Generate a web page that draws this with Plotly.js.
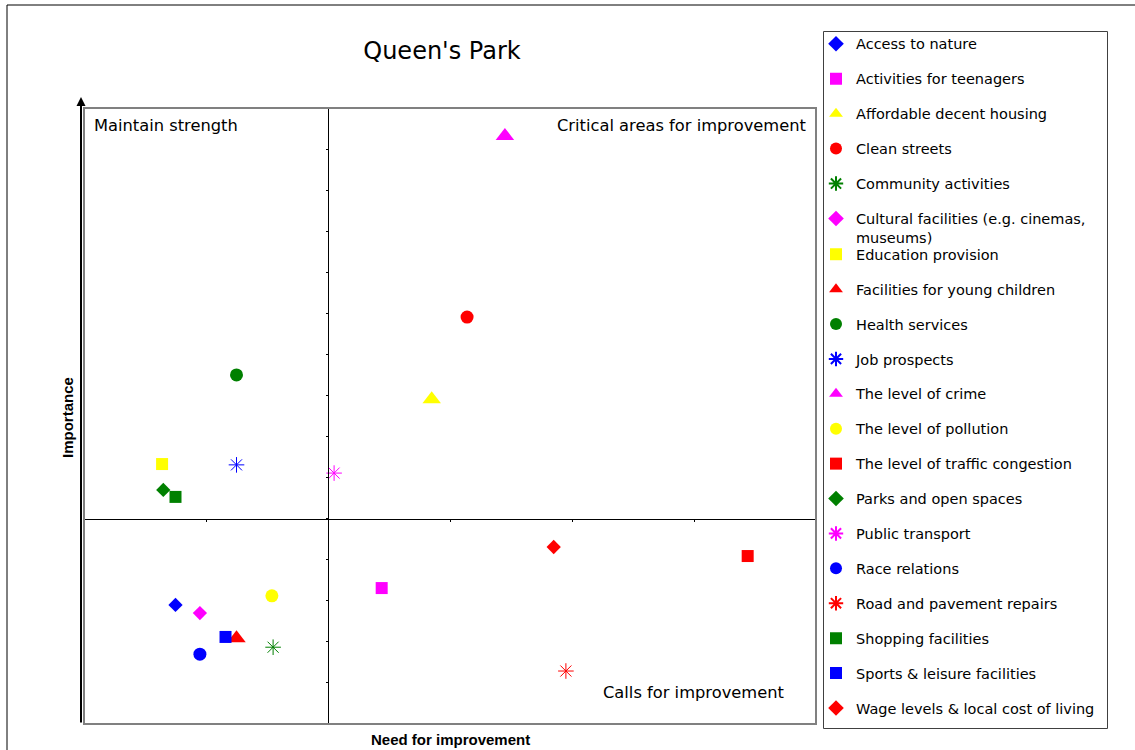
<!DOCTYPE html>
<html>
<head>
<meta charset="utf-8">
<script src="https://cdn.plot.ly/plotly-3.0.1.min.js"></script>
<style>html,body{margin:0;padding:0;background:#fff;}#chart{width:1135px;height:750px;}</style>
</head>
<body>
<div id="chart"></div>
<script>
const categories = [
  "Access to nature",
  "Activities for teenagers",
  "Affordable decent housing",
  "Clean streets",
  "Community activities",
  "Cultural facilities (e.g. cinemas,<br>museums)",
  "Education provision",
  "Facilities for young children",
  "Health services",
  "Job prospects",
  "The level of crime",
  "The level of pollution",
  "The level of traffic congestion",
  "Parks and open spaces",
  "Public transport",
  "Race relations",
  "Road and pavement repairs",
  "Shopping facilities",
  "Sports & leisure facilities",
  "Wage levels & local cost of living"
];
const needForImprovement = [0.75, 2.44, 2.85, 3.14, 1.55, 0.95, 0.64, 1.25, 1.25, 1.25, 3.45, 1.54, 5.44, 0.65, 2.05, 0.95, 3.95, 0.75, 1.16, 3.85];
const importance =        [2.90, 3.31, 7.91, 9.91, 1.87, 2.70, 6.33, 2.09, 8.50, 6.31, 14.32, 3.12, 4.09, 5.70, 6.11, 1.70, 1.29, 5.53, 2.12, 4.31];
const colors = ["#0000FF","#FF00FF","#FFFF00","#FF0000","#008000","#FF00FF","#FFFF00","#FF0000","#008000","#0000FF","#FF00FF","#FFFF00","#FF0000","#008000","#FF00FF","#0000FF","#FF0000","#008000","#0000FF","#FF0000"];
const symbols = ["diamond","square","triangle-up","circle","asterisk-open","diamond","square","triangle-up","circle","asterisk-open","triangle-up","circle","square","diamond","asterisk-open","circle","asterisk-open","square","square","diamond"];
const xTickVals = [0,1,2,3,4,5,6];
const yTickVals = [0,1,2,3,4,5,6,7,8,9,10,11,12,13,14,15];
const quadrantLabels = ["Maintain strength","Critical areas for improvement","Calls for improvement"];

const sizeFor = {"diamond":11,"square":12,"triangle-up":16,"circle":13,"asterisk-open":13};

const traces = categories.map((name, i) => ({
  type: "scatter",
  mode: "markers",
  name: name,
  x: [needForImprovement[i]],
  y: [importance[i]],
  legendgroup: "g" + i,
  legend: i < 6 ? "legend" : "legend2",
  cliponaxis: false,
  marker: {
    symbol: symbols[i],
    size: sizeFor[symbols[i]],
    color: colors[i],
    line: symbols[i] === "asterisk-open" ? {color: colors[i], width: 1} : {width: 0}
  },
  hoverinfo: "name"
}));

const legendFont = {family: "DejaVu Sans", size: 14.5, color: "#000"};
const px = v => (v - 84) / 732;
const py = v => (724 - v) / 616;

const layout = {
  width: 1135,
  height: 750,
  margin: {l: 84, r: 319, t: 108, b: 26},
  paper_bgcolor: "#fff",
  plot_bgcolor: "#fff",
  showlegend: true,
  title: {
    text: "Queen's Park",
    font: {family: "DejaVu Sans", size: 24, color: "#000"},
    x: 442 / 1135, xanchor: "center",
    y: 1 - 51 / 750, yanchor: "middle"
  },
  xaxis: {
    range: [0, 6], anchor: "free", position: 5 / 15,
    showline: true, linecolor: "#000", linewidth: 1,
    ticks: "outside", ticklen: 2, tickcolor: "#000", tickwidth: 1,
    tickvals: xTickVals, showticklabels: false,
    showgrid: false, zeroline: false, fixedrange: true
  },
  yaxis: {
    range: [0, 15], anchor: "free", position: 2 / 6,
    showline: true, linecolor: "#000", linewidth: 1,
    ticks: "outside", ticklen: 2, tickcolor: "#000", tickwidth: 1,
    tickvals: yTickVals, showticklabels: false,
    showgrid: false, zeroline: false, fixedrange: true
  },
  legend: {
    x: px(816), xanchor: "left", y: py(27.8), yanchor: "top",
    font: legendFont, bgcolor: "rgba(0,0,0,0)", borderwidth: 0,
    traceorder: "grouped", tracegroupgap: 13.1, valign: "top", itemsizing: "constant"
  },
  legend2: {
    x: px(816), xanchor: "left", y: py(238.3), yanchor: "top",
    font: legendFont, bgcolor: "rgba(0,0,0,0)", borderwidth: 0,
    traceorder: "grouped", tracegroupgap: 13.05, valign: "top", itemsizing: "constant"
  },
  shapes: [
    {type: "rect", xref: "paper", yref: "paper", x0: px(7), x1: px(1160), y0: py(5), y1: py(770), line: {color: "#000", width: 1}, layer: "below"},
    {type: "rect", xref: "paper", yref: "paper", x0: 0, x1: 1, y0: 0, y1: 1, line: {color: "#808080", width: 2}},
    {type: "rect", xref: "paper", yref: "paper", x0: px(823.5), x1: px(1107.5), y0: py(31.5), y1: py(728.5), line: {color: "#404040", width: 1}}
  ],
  annotations: [
    {xref: "paper", yref: "paper", x: px(92), y: py(125), xanchor: "left", yanchor: "middle", text: quadrantLabels[0], showarrow: false, font: {family: "DejaVu Sans", size: 16.3, color: "#000"}},
    {xref: "paper", yref: "paper", x: px(808), y: py(125), xanchor: "right", yanchor: "middle", text: quadrantLabels[1], showarrow: false, font: {family: "DejaVu Sans", size: 16.3, color: "#000"}},
    {xref: "paper", yref: "paper", x: px(786), y: py(692), xanchor: "right", yanchor: "middle", text: quadrantLabels[2], showarrow: false, font: {family: "DejaVu Sans", size: 16.3, color: "#000"}},
    {xref: "paper", yref: "paper", x: 0.5, y: py(739), xanchor: "center", yanchor: "middle", text: "Need for improvement", showarrow: false, font: {family: "Liberation Sans", size: 15, color: "#000", weight: "bold"}},
    {xref: "paper", yref: "paper", x: px(67), y: py(418), xanchor: "center", yanchor: "middle", text: "Importance", textangle: -90, showarrow: false, font: {family: "Liberation Sans", size: 15, color: "#000", weight: "bold"}},
    {xref: "paper", yref: "paper", x: px(81), y: py(97), text: "", showarrow: true, ax: 0, ay: 627, arrowhead: 2, arrowsize: 0.9, arrowwidth: 2, arrowcolor: "#000"}
  ]
};

Plotly.newPlot("chart", traces, layout, {displayModeBar: false, staticPlot: true});
</script>
</body>
</html>
